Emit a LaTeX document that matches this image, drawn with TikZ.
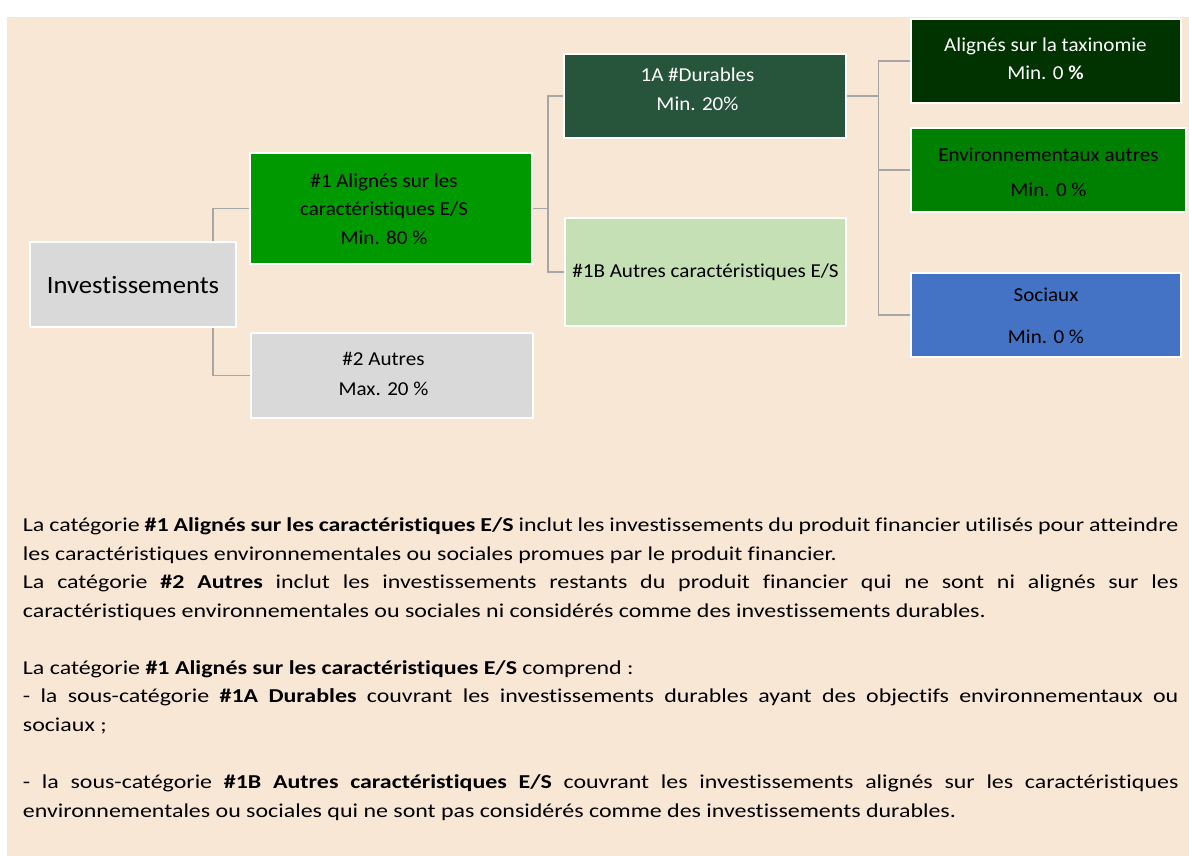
\documentclass[tikz,border=0pt]{standalone}
\usepackage{fontspec}
\setmainfont[FakeStretch=1.07, Ligatures=NoCommon]{Carlito}
\newfontfamily\parafont[FakeStretch=1.215, Ligatures=NoCommon]{Carlito}
\usetikzlibrary{backgrounds}
\definecolor{peach}{HTML}{F9E7D6}
\definecolor{boxgray}{HTML}{D9D9D9}
\definecolor{greenone}{HTML}{009900}
\definecolor{greenA}{HTML}{26553B}
\definecolor{greenB}{HTML}{C5E0B4}
\definecolor{greentax}{HTML}{003300}
\definecolor{greenenv}{HTML}{008000}
\definecolor{bluesoc}{HTML}{4472C4}
\definecolor{linegray}{HTML}{A6A6A6}
\tikzset{
  box/.style={rectangle, draw=white, line width=2pt, inner sep=0pt, outer sep=0pt},
  lbl/.style={anchor=base, inner sep=0pt, outer sep=0pt},
  conn/.style={draw=linegray, line width=1.3pt},
}
\newcommand{\btext}[3]{\parbox[t]{#1pt}{\centering\fontsize{19.7}{#2}\selectfont #3}}
\begin{document}
\begin{tikzpicture}[x=1pt,y=-1pt]
\useasboundingbox (0,0) rectangle (1189,856);

% boxes
\node[box, fill=boxgray, minimum width=205.5pt, minimum height=85.3pt] (inv) at (132.75,284.35) {};
\node[box, fill=greenone, minimum width=282pt, minimum height=111pt] (g1) at (391,208.5) {};
\node[box, fill=boxgray, minimum width=282.5pt, minimum height=85pt] (g2) at (391.75,375.5) {};
\node[box, fill=greenA, minimum width=282pt, minimum height=84.6pt] (a1) at (705.3,96) {};
\node[box, fill=greenB, minimum width=281pt, minimum height=108pt] (b1) at (705.5,272) {};
\node[box, fill=greentax, minimum width=270pt, minimum height=84pt] (tax) at (1045.5,61) {};
\node[box, fill=greenenv, minimum width=275pt, minimum height=84pt] (env) at (1048,170) {};
\node[box, fill=bluesoc, minimum width=270.4pt, minimum height=84pt] (soc) at (1045.8,315) {};

% box texts
\node[lbl] (tinv) at (133,293) {\fontsize{24.9}{30}\selectfont Investissements};
\node[lbl] (tg1) at (384,187) {\btext{270}{28.5}{\#1 Alignés sur les\\caractéristiques E/S\\Min. 80 \%}};
\node[lbl] (tg2) at (383.5,365) {\btext{270}{30}{\#2 Autres\\Max. 20 \%}};
\node[lbl, text=white] (ta1) at (697.5,81.7) {\btext{270}{28.6}{1A \#Durables\\Min. 20\%}};
\node[lbl] (tb1) at (705.5,277.7) {\btext{280}{28}{\#1B Autres caractéristiques E/S}};
\node[lbl, text=white] (ttax) at (1045.5,51.7) {\btext{265}{28.3}{Alignés sur la taxinomie\\Min. 0 \textbf{\%}}};
\node[lbl] (tenv) at (1048.5,161.7) {\btext{270}{35.3}{Environnementaux autres\\Min. 0 \%}};
\node[lbl] (tsoc) at (1046,301.7) {\btext{265}{41.6}{Sociaux\\Min. 0 \%}};

% paragraph
\node[anchor=base west, inner sep=0pt] (para) at (22.7,531.5) {\parbox[t]{1155.5pt}{\parafont\fontsize{19.7}{28.55}\selectfont\parindent=0pt\parskip=0pt
La catégorie \textbf{\#1 Alignés sur les caractéristiques E/S} inclut les investissements du produit financier utilisés pour atteindre\linebreak
les caractéristiques environnementales ou sociales promues par le produit financier.\par
La catégorie \textbf{\#2 Autres} inclut les investissements restants du produit financier qui ne sont ni alignés sur les\linebreak
caractéristiques environnementales ou sociales ni considérés comme des investissements durables.\par
\mbox{}\par
La catégorie \textbf{\#1 Alignés sur les caractéristiques E/S} comprend :\par
- la sous-catégorie \textbf{\#1A Durables} couvrant les investissements durables ayant des objectifs environnementaux ou\linebreak
sociaux ;\par
\mbox{}\par
- la sous-catégorie \textbf{\#1B Autres caractéristiques E/S} couvrant les investissements alignés sur les caractéristiques\linebreak
environnementales ou sociales qui ne sont pas considérés comme des investissements durables.\par}};

% forks
\coordinate (fork1) at (213,208.5);
\coordinate (fork2) at (548,208.5);
\coordinate (fork3) at (878.6,96);

\begin{scope}[on background layer]
\fill[peach] (7,17) rectangle (1189,856);
\draw[conn] (inv.north -| fork1) |- (g1.west);
\draw[conn] (inv.south -| fork1) |- (g2.west);
\draw[conn] (g1.east) -- (fork2);
\draw[conn] (fork2) |- (a1.west);
\draw[conn] (fork2) |- (b1.west);
\draw[conn] (a1.east) -- (fork3);
\draw[conn] (fork3) |- (tax.west);
\draw[conn] (fork3) |- (env.west);
\draw[conn] (fork3) |- (soc.west);
\end{scope}
\end{tikzpicture}
\end{document}
